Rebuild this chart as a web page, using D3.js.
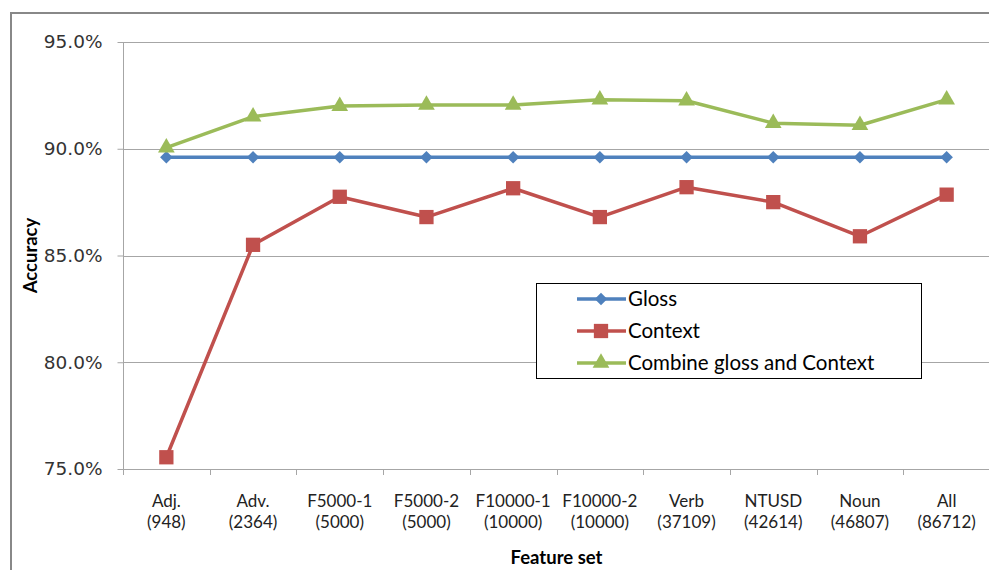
<!DOCTYPE html>
<html><head><meta charset="utf-8">
<script src="https://cdn.jsdelivr.net/npm/d3@7"></script>
<style>body{margin:0;background:#fff;}svg{display:block;}</style>
</head><body>
<svg id="c" width="989" height="570"></svg>
<script>
const categories = ["Adj.|(948)","Adv.|(2364)","F5000-1|(5000)","F5000-2|(5000)","F10000-1|(10000)","F10000-2|(10000)","Verb|(37109)","NTUSD|(42614)","Noun|(46807)","All|(86712)"];
const gloss   = [89.6,89.6,89.6,89.6,89.6,89.6,89.6,89.6,89.6,89.6];
const context = [75.55,85.5,87.75,86.8,88.15,86.8,88.2,87.5,85.9,87.85];
const combine = [90.05,91.5,92.0,92.05,92.05,92.3,92.25,91.2,91.1,92.3];
const yTicks  = [75,80,85,90,95];
const seriesNames = ["Gloss","Context","Combine gloss and Context"];

const svg = d3.select("#c");
const L=123, R=990, T=42, B=469;
const x = d3.scaleBand().domain(categories).range([L,R]).padding(0);
const y = d3.scaleLinear().domain([75,95]).range([B,T]);

// outer border
svg.append("rect").attr("x",11).attr("y",13).attr("width",990).attr("height",570)
  .attr("fill","none").attr("stroke","#888").attr("stroke-width",2);

// gridlines
svg.append("g").selectAll("line").data(yTicks.filter(d=>d>75)).join("line")
  .attr("x1",L).attr("x2",R).attr("y1",d=>Math.round(y(d))+0.5).attr("y2",d=>Math.round(y(d))+0.5)
  .attr("stroke","#a6a6a6").attr("stroke-width",1);

// y axis
const ya = svg.append("g").attr("transform",`translate(${L+0.5},0)`)
  .call(d3.axisLeft(y).tickValues(yTicks).tickSize(6).tickPadding(15).tickFormat(d=>d3.format(".1f")(d)+"%"));
ya.select(".domain").attr("stroke","#a6a6a6").attr("d",`M0,${T}V${B+0.5}`);
ya.selectAll(".tick line").attr("stroke","#a6a6a6");
ya.selectAll(".tick text").attr("font-family","DejaVu Sans").attr("font-size",18.5).attr("fill","#333");

// x axis
const xa = svg.append("g").attr("transform",`translate(0,${B+0.5})`)
  .call(d3.axisBottom(x).tickSize(0).tickFormat(""));
xa.select(".domain").attr("stroke","#a6a6a6").attr("d",`M${L},0H${R}`);
svg.append("g").selectAll("line").data(categories).join("line")
  .attr("x1",d=>Math.round(x(d))+0.5).attr("x2",d=>Math.round(x(d))+0.5)
  .attr("y1",B).attr("y2",B+6).attr("stroke","#a6a6a6");
const xl = svg.append("g").selectAll("text").data(categories).join("text")
  .attr("x",d=>x(d)+x.bandwidth()/2).attr("y",507)
  .attr("text-anchor","middle").attr("font-family","Lato").attr("font-size",17).attr("fill","#222");
xl.each(function(d){
  const parts=d.split("|");
  d3.select(this).append("tspan").attr("x",x(d)+x.bandwidth()/2).attr("dy",0).text(parts[0]);
  d3.select(this).append("tspan").attr("x",x(d)+x.bandwidth()/2).attr("dy",21).text(parts[1]);
});

// axis titles
svg.append("text").attr("x",(L+R)/2).attr("y",564).attr("text-anchor","middle")
  .attr("font-family","Lato").attr("font-weight","bold").attr("font-size",18.5).attr("fill","#000").text("Feature set");
svg.append("text").attr("transform",`translate(37,${(T+B)/2}) rotate(-90)`).attr("text-anchor","middle")
  .attr("font-family","Lato").attr("font-weight","bold").attr("font-size",18.5).attr("fill","#000").text("Accuracy");

const colors=["#4F81BD","#C0504D","#9BBB59"];
const symbols=[d3.symbolDiamond2, d3.symbolSquare2, d3.symbolTriangle2];
const sizes=[100, 260, 200];
const data=[gloss,context,combine];
const line=d3.line().x((d,i)=>x(categories[i])+x.bandwidth()/2).y(d=>y(d));

data.forEach((s,k)=>{
  const g=svg.append("g");
  g.append("path").datum(s).attr("d",line).attr("fill","none").attr("stroke",colors[k]).attr("stroke-width",3.5).attr("stroke-linejoin","round");
  g.selectAll("path.m").data(s).join("path").attr("class","m")
    .attr("transform",(d,i)=>`translate(${x(categories[i])+x.bandwidth()/2},${y(d)})`)
    .attr("d",d3.symbol().type(symbols[k]).size(sizes[k])).attr("fill",colors[k]);
});

// legend
const lg=svg.append("g");
lg.append("rect").attr("x",536.5).attr("y",283.5).attr("width",385).attr("height",95)
  .attr("fill","#fff").attr("stroke","#000").attr("stroke-width",1);
seriesNames.forEach((n,k)=>{
  const yy=[299,331,363][k];
  lg.append("line").attr("x1",577).attr("x2",626).attr("y1",yy).attr("y2",yy).attr("stroke",colors[k]).attr("stroke-width",3.5);
  lg.append("path").attr("transform",`translate(601,${yy})`).attr("d",d3.symbol().type(symbols[k]).size(sizes[k])).attr("fill",colors[k]);
  lg.append("text").attr("x",628).attr("y",yy+7).attr("font-family","Lato").attr("font-size",20.5).attr("fill","#000").text(n);
});
</script>
</body></html>
